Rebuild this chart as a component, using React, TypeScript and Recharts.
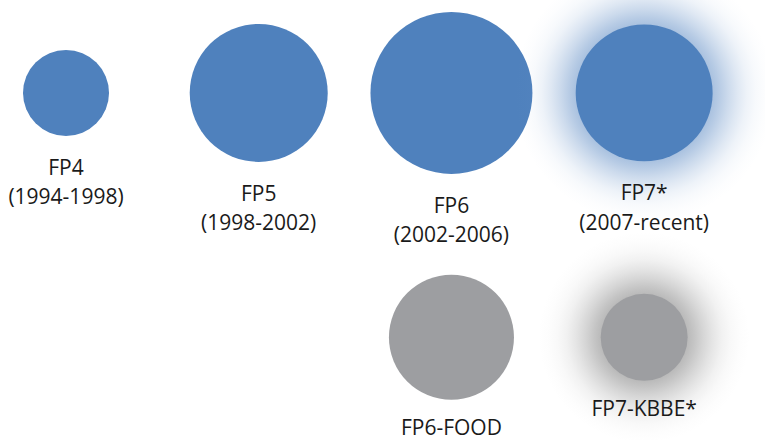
// Bubble comparison of EU framework programmes and their food research lines.
import { ScatterChart, Scatter, XAxis, YAxis, ZAxis } from "recharts";

const programmes = ["FP4", "FP5", "FP6", "FP7*"];
const periods = ["(1994-1998)", "(1998-2002)", "(2002-2006)", "(2007-recent)"];
const programmeValues = [18.5, 47.6, 65.6, 46.9];
const programmeGlow = [false, false, false, true];

const foodLabels = ["FP6-FOOD", "FP7-KBBE*"];
const foodColumns = [2, 3];
const foodValues = [39.1, 18.9];
const foodGlow = [false, true];

const programmeData = programmes.map((name, i) => ({
  col: i,
  row: 0,
  value: programmeValues[i],
  lines: [name, periods[i]],
  glow: programmeGlow[i],
}));

const foodData = foodLabels.map((name, i) => ({
  col: foodColumns[i],
  row: 1,
  value: foodValues[i],
  lines: [name],
  glow: foodGlow[i],
}));

const BLUE = "#4F81BD";
const GRAY = "#9D9EA1";

const makeShape = (fill: string, glowColor: string, glowOpacity: number, labelGap: number) =>
  (props: any) => {
    const { cx, cy, width, payload } = props;
    const r = width / 2;
    const R = r + 62;
    const id = `glow-${payload.row}-${payload.col}`;
    const start = r / R;
    // soft, roughly gaussian falloff
    const steps = [
      [0, 1],
      [0.1, 0.85],
      [0.25, 0.6],
      [0.4, 0.38],
      [0.55, 0.2],
      [0.7, 0.09],
      [0.85, 0.03],
      [1, 0],
    ];
    return (
      <g>
        {payload.glow && (
          <>
            <defs>
              <radialGradient id={id}>
                <stop offset={0} stopColor={glowColor} stopOpacity={glowOpacity} />
                {steps.map(([k, o]) => (
                  <stop
                    key={k}
                    offset={start + k * (1 - start)}
                    stopColor={glowColor}
                    stopOpacity={glowOpacity * o}
                  />
                ))}
              </radialGradient>
            </defs>
            <circle cx={cx} cy={cy} r={R} fill={`url(#${id})`} />
          </>
        )}
        <circle cx={cx} cy={cy} r={r} fill={fill} />
        {payload.lines.map((line: string, i: number) => (
          <text
            key={line}
            x={cx}
            y={cy + r + labelGap + i * 29.5}
            textAnchor="middle"
            fontFamily="'Open Sans', sans-serif"
            fontSize={21}
            fill="#1a1a1a"
          >
            {line}
          </text>
        ))}
      </g>
    );
  };

export default function App() {
  return (
    <div style={{ position: "fixed", left: 0, top: 0, background: "#fff" }}>
      <ScatterChart width={765} height={440} margin={{ top: 0, right: 0, bottom: 0, left: 0 }}>
        <XAxis type="number" dataKey="col" domain={[-0.3425, 3.627]} hide />
        <YAxis type="number" dataKey="row" domain={[-0.38, 1.42]} reversed hide />
        <ZAxis type="number" dataKey="value" domain={[0, 100]} range={[0, 31416]} />
        <Scatter
          data={programmeData}
          fill={BLUE}
          shape={makeShape(BLUE, "#7199CB", 0.6, 39)}
          isAnimationActive={false}
        />
        <Scatter
          data={foodData}
          fill={GRAY}
          shape={makeShape(GRAY, "#8C8C8C", 0.6, 35.5)}
          isAnimationActive={false}
        />
      </ScatterChart>
    </div>
  );
}
